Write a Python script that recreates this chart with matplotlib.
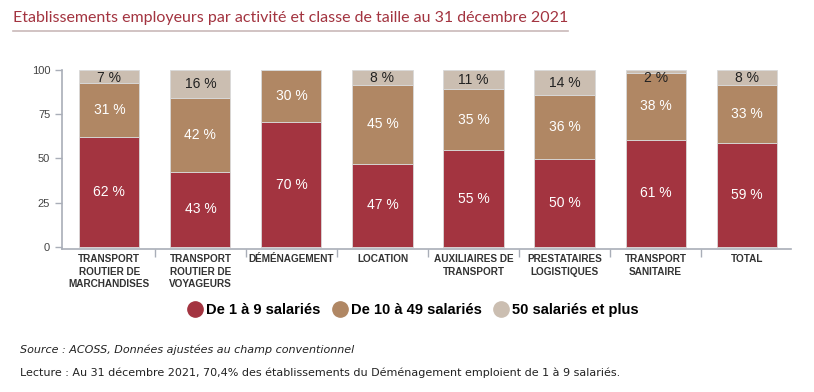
import numpy as np
import matplotlib.pyplot as plt
from matplotlib.lines import Line2D

categories = ["TRANSPORT\nROUTIER DE\nMARCHANDISES", "TRANSPORT\nROUTIER DE\nVOYAGEURS",
              "DÉMÉNAGEMENT", "LOCATION", "AUXILIAIRES DE\nTRANSPORT",
              "PRESTATAIRES\nLOGISTIQUES", "TRANSPORT\nSANITAIRE", "TOTAL"]
small = [61.9, 42.6, 70.4, 46.8, 54.6, 49.6, 60.6, 58.8]
medium = [30.9, 41.6, 29.6, 44.9, 34.6, 36.2, 37.8, 32.9]
large = [7.2, 15.8, 0.0, 8.3, 10.8, 14.2, 1.6, 8.3]
series_names = ["De 1 à 9 salariés", "De 10 à 49 salariés", "50 salariés et plus"]
yticks = [0, 25, 50, 75, 100]

colors = ["#A33440", "#B08764", "#CBBEB1"]
text_colors = ["white", "white", "#222222"]
axis_color = "#A9AEB8"

plt.rcParams['font.family'] = ['Liberation Sans', 'DejaVu Sans']

fig = plt.figure(figsize=(8.14, 3.92), dpi=100)
ax = fig.add_axes([0.0762, 0.365, 0.8958, 0.456])

x = np.arange(len(categories))
bottom = np.zeros(len(categories))
for vals, col, tcol in zip([small, medium, large], colors, text_colors):
    vals = np.array(vals)
    ax.bar(x, vals, 0.66, bottom=bottom, color=col, edgecolor="#D9D9D9", linewidth=0.6)
    for xi, b, v in zip(x, bottom, vals):
        if v > 0:
            yc = min(b + v / 2, 95.5)
            ax.text(xi, yc, f"{round(v):d} %", ha="center", va="center",
                    color=tcol, fontsize=10)
    bottom += vals

ax.set_xlim(-0.52, 7.49)
ax.set_ylim(-1.2, 100)
ax.set_yticks(yticks)
ax.tick_params(axis="y", labelsize=8, colors=axis_color, labelcolor="#444444", length=5, width=1)
ax.set_xticks(x)
ax.set_xticklabels(categories, fontsize=7.2, fontweight="bold", color="#333333", linespacing=1.3)
ax.tick_params(axis="x", length=0, pad=4)
ax.set_xticks(np.arange(0.5, 7.5, 1), minor=True)
ax.tick_params(axis="x", which="minor", length=6, width=1, color=axis_color)
for s in ["top", "right"]:
    ax.spines[s].set_visible(False)
for s in ["left", "bottom"]:
    ax.spines[s].set_color(axis_color)
    ax.spines[s].set_linewidth(1.2)

# legend
handles = [Line2D([], [], marker="o", linestyle="", markersize=11, markerfacecolor=c,
                  markeredgecolor=c) for c in colors]
fig.legend(handles, series_names, loc="center", bbox_to_anchor=(0.506, 0.209), ncol=3,
           frameon=False, handletextpad=0.1, columnspacing=0.7, handlelength=1.3,
           prop={"weight": "bold", "size": 10.5})

# title + underline matched to its width
title = fig.text(0.016, 0.955, "Etablissements employeurs par activité et classe de taille au 31 décembre 2021",
                 color="#A33440", fontsize=11.5, va="center", family=["Lato", "Liberation Sans"])
fig.canvas.draw()
bb = title.get_window_extent().transformed(fig.transFigure.inverted())
fig.add_artist(Line2D([bb.x0, bb.x1], [0.922, 0.922], color="#C9B9B9", linewidth=1.2))

fig.text(0.025, 0.107, "Source : ACOSS, Données ajustées au champ conventionnel",
         fontsize=8, style="italic", color="#222222", family=["DejaVu Sans"], va="center")
fig.text(0.025, 0.048, "Lecture : Au 31 décembre 2021, 70,4% des établissements du Déménagement emploient de 1 à 9 salariés.",
         fontsize=8, color="#222222", family=["DejaVu Sans"], va="center")

fig.savefig("out.png", dpi=100)
